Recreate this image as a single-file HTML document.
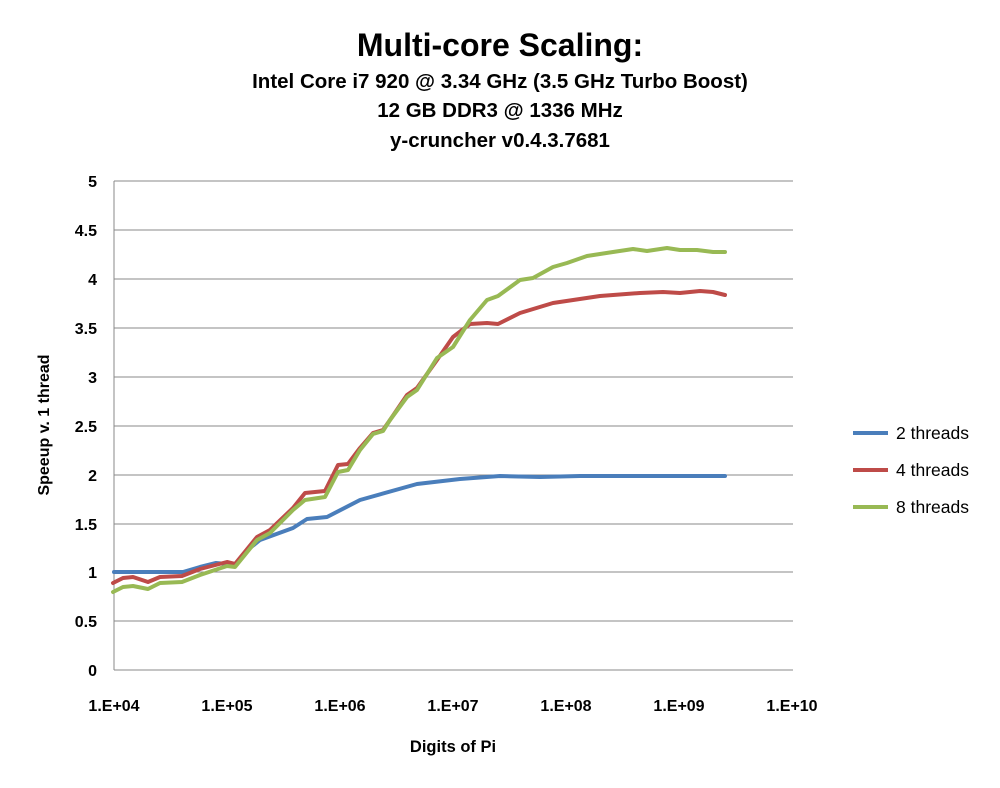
<!DOCTYPE html>
<html><head><style>body{margin:0;background:#fff}</style></head><body>
<svg width="1000" height="783" xmlns="http://www.w3.org/2000/svg" font-family="Liberation Sans, sans-serif" font-weight="bold">
<rect width="1000" height="783" fill="#fff"/>
<text x="500" y="56" text-anchor="middle" font-size="32">Multi-core Scaling:</text>
<text x="500" y="88" text-anchor="middle" font-size="20.5">Intel Core i7 920 @ 3.34 GHz (3.5 GHz Turbo Boost)</text>
<text x="500" y="117" text-anchor="middle" font-size="20.5">12 GB DDR3 @ 1336 MHz</text>
<text x="500" y="147" text-anchor="middle" font-size="20.5">y-cruncher v0.4.3.7681</text>
<g stroke="#888" stroke-width="1">
<line x1="114" y1="181" x2="793" y2="181"/><line x1="114" y1="230" x2="793" y2="230"/>
<line x1="114" y1="279" x2="793" y2="279"/><line x1="114" y1="328" x2="793" y2="328"/>
<line x1="114" y1="377" x2="793" y2="377"/><line x1="114" y1="426" x2="793" y2="426"/>
<line x1="114" y1="475" x2="793" y2="475"/><line x1="114" y1="524" x2="793" y2="524"/>
<line x1="114" y1="572" x2="793" y2="572"/><line x1="114" y1="621" x2="793" y2="621"/>
<line x1="114" y1="670" x2="793" y2="670"/><line x1="114" y1="181" x2="114" y2="670"/>
</g>
<g font-size="16" text-anchor="end">
<text x="97" y="187">5</text><text x="97" y="236">4.5</text><text x="97" y="285">4</text>
<text x="97" y="334">3.5</text><text x="97" y="383">3</text><text x="97" y="432">2.5</text>
<text x="97" y="481">2</text><text x="97" y="530">1.5</text><text x="97" y="578">1</text>
<text x="97" y="627">0.5</text><text x="97" y="676">0</text>
</g>
<g font-size="16" text-anchor="middle">
<text x="114" y="711">1.E+04</text><text x="227" y="711">1.E+05</text><text x="340" y="711">1.E+06</text>
<text x="453" y="711">1.E+07</text><text x="566" y="711">1.E+08</text><text x="679" y="711">1.E+09</text>
<text x="792" y="711">1.E+10</text>
<text x="453" y="752" font-size="16.5">Digits of Pi</text>
</g>
<text transform="translate(49,425) rotate(-90)" font-size="16" text-anchor="middle">Speeup v. 1 thread</text>
<g fill="none" stroke-width="4" stroke-linejoin="round" stroke-linecap="round">
<polyline stroke="#4a7ebb" points="114,572 183,572 200,567 216,563 227,564 235,565 250,548 260,540 293,528 307,519 327,517 360,500 417,484 460,479 500,476 540,477 580,476 600,476 640,476 680,476 725,476"/>
<polyline stroke="#be4b48" points="113,583 123,578 133,577 148,582 160,577 182,576 200,569 227,562 235,564 257,537 270,530 293,508 305,493 325,491 338,465 348,464 360,448 373,433 383,430 390,420 407,395 417,388 437,360 453,337 470,324 487,323 498,324 520,313 553,303 600,296 640,293 663,292 680,293 700,291 713,292 725,295"/>
<polyline stroke="#98b954" points="113,592 123,587 133,586 148,589 160,583 182,582 200,575 227,566 235,567 257,540 270,533 293,510 305,500 325,497 338,472 348,470 360,450 373,434 383,431 390,420 407,397 417,390 437,358 453,347 470,320 487,300 498,296 520,280 533,278 553,267 567,263 587,256 613,252 633,249 647,251 667,248 680,250 697,250 713,252 725,252"/>
</g>
<g font-size="17.5" font-weight="normal">
<line x1="853" y1="433" x2="888" y2="433" stroke="#4a7ebb" stroke-width="4"/><text x="896" y="439">2 threads</text>
<line x1="853" y1="470" x2="888" y2="470" stroke="#be4b48" stroke-width="4"/><text x="896" y="476">4 threads</text>
<line x1="853" y1="507" x2="888" y2="507" stroke="#98b954" stroke-width="4"/><text x="896" y="513">8 threads</text>
</g>
</svg>
</body></html>
